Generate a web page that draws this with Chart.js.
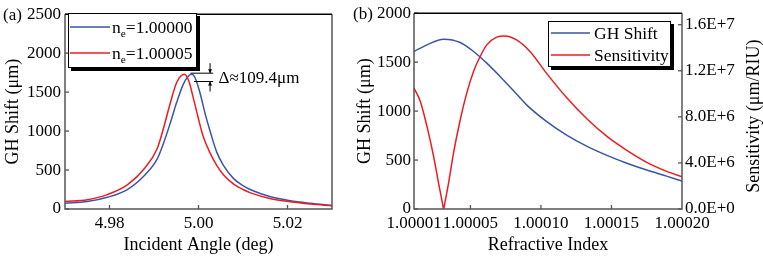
<!DOCTYPE html>
<html>
<head>
<meta charset="utf-8">
<script src="https://cdn.jsdelivr.net/npm/chart.js@4.4.0/dist/chart.umd.min.js"></script>
<style>
  body { margin: 0; background: #fff; }
  #wrap { position: relative; width: 763px; height: 256px; }
  canvas { position: absolute; top: 0; }
  #chartA { left: 0; }
  #chartB { left: 340px; }
</style>
</head>
<body>
<div id="wrap">
  <canvas id="chartA" width="340" height="256"></canvas>
  <canvas id="chartB" width="423" height="256"></canvas>
</div>
<script>
// ---- panel (a): GH shift vs incident angle ----
const angleBlue = [4.9700, 4.9750, 4.9795, 4.9840, 4.9880, 4.9907, 4.9921, 4.9936, 4.9951, 4.9966, 4.9978, 4.9985, 4.9993, 5.0004, 5.0015, 5.0026, 5.0041, 5.0056, 5.0079, 5.0100, 5.0120, 5.0160, 5.0206, 5.0251, 5.0300];
const ghBlue = [73, 95, 150, 250, 440, 640, 838, 1093, 1369, 1603, 1709, 1728, 1675, 1476, 1221, 1000, 730, 560, 390, 300, 240, 160, 106, 73, 45];
const angleRed = [4.9700, 4.9750, 4.9795, 4.9840, 4.9880, 4.9907, 4.9921, 4.9936, 4.9951, 4.9968, 4.9978, 4.9988, 4.9999, 5.0010, 5.0026, 5.0041, 5.0056, 5.0079, 5.0100, 5.0120, 5.0160, 5.0206, 5.0251, 5.0300];
const ghRed = [95, 120, 185, 310, 530, 774, 1029, 1348, 1624, 1728, 1645, 1433, 1178, 940, 720, 560, 440, 320, 250, 200, 136, 93, 64, 42];
const angleTicks = [4.98, 5.00, 5.02];
const labelsA = ['n_e=1.00000', 'n_e=1.00005'];

// bracket marking the peak difference
const deltaLevels = [1743, 1636];
const deltaFrom = [4.9982, 4.9990];
const deltaTo = 5.0033;
const deltaArrowX = 5.0026;
const deltaTextX = 5.0045;
const deltaText = 'Δ≈109.4μm';

// ---- panel (b): GH shift and sensitivity vs refractive index ----
const indexGH = [1.00001, 1.0000192, 1.000031, 1.0000428, 1.0000522, 1.0000616, 1.000071, 1.0000804, 1.0000898, 1.0001039, 1.0001185, 1.0001327, 1.0001468, 1.0001609, 1.000175, 1.0001891, 1.0002];
const ghShift = [1609, 1677, 1735, 1701, 1609, 1490, 1354, 1211, 1064, 895, 752, 640, 548, 468, 398, 336, 285];
const indexSens = [1.00001, 1.0000145, 1.0000192, 1.0000239, 1.0000274, 1.0000301, 1.000031, 1.0000319, 1.0000345, 1.000038, 1.0000428, 1.0000474, 1.0000522, 1.0000569, 1.0000616, 1.0000686, 1.0000745, 1.0000827, 1.0000922, 1.0001039, 1.0001185, 1.0001327, 1.0001468, 1.0001609, 1.000175, 1.0001891, 1.0002];
const sensitivity = [1.05e7, 9.34e6, 7.17e6, 4.57e6, 2.25e6, 0.55e6, 0, 0.55e6, 2.25e6, 4.86e6, 7.75e6, 1.006e7, 1.194e7, 1.324e7, 1.425e7, 1.492e7, 1.503e7, 1.468e7, 1.368e7, 1.18e7, 9.63e6, 7.81e6, 6.30e6, 5.09e6, 4.05e6, 3.27e6, 2.80e6];
const indexTicks = [1.00001, 1.00005, 1.00010, 1.00015, 1.00020];
const sensTicks = [0, 4e6, 8e6, 1.2e7, 1.6e7];
const labelsB = ['GH Shift', 'Sensitivity'];

const BLUE = '#3a55a7';
const RED = '#ec1c24';
const FONT = '"Liberation Serif", "Times New Roman", serif';
const tickFont = {family: FONT, size: 17};
const titleFont = {family: FONT, size: 18};

function toPoints(xs, ys) {
    return xs.map((x, i) => ({x: x, y: ys[i]}));
}

function sci(v) {
    if (v === 0) return '0.0E+0';
    const e = Math.floor(Math.log10(v) + 1e-9);
    return (v / Math.pow(10, e)).toFixed(1) + 'E+' + e;
}

/** text with "_x" meaning a one letter subscript */
function drawRich(ctx, text, x, y, size) {
    const parts = text.split('_');
    ctx.font = size + 'px ' + FONT;
    ctx.fillText(parts[0], x, y);
    let cx = x + ctx.measureText(parts[0]).width;
    if (parts.length > 1) {
        const sub = parts[1][0];
        const rest = parts[1].slice(1);
        ctx.font = (size * 0.65) + 'px ' + FONT;
        ctx.fillText(sub, cx, y + size * 0.22);
        cx += ctx.measureText(sub).width;
        ctx.font = size + 'px ' + FONT;
        ctx.fillText(rest, cx, y);
    }
}

/** frame, inward ticks, legend box and panel letter */
const framePlugin = {
    id: 'frame',
    afterDraw(chart, args, opts) {
        const ctx = chart.ctx;
        const a = chart.chartArea;
        ctx.save();
        ctx.lineWidth = 1.3;
        ctx.strokeStyle = '#555';
        Object.values(chart.scales).forEach(s => {
            s.ticks.forEach(t => {
                const p = s.getPixelForValue(t.value);
                ctx.beginPath();
                if (s.axis === 'x') {
                    if (p < a.left + 2 || p > a.right - 2) return;
                    ctx.moveTo(p, a.bottom); ctx.lineTo(p, a.bottom - 4);
                } else if (s.position === 'left') {
                    ctx.moveTo(a.left, p); ctx.lineTo(a.left + 4, p);
                } else {
                    ctx.moveTo(a.right, p); ctx.lineTo(a.right - 4, p);
                }
                ctx.stroke();
            });
        });
        ctx.lineWidth = 1.5;
        ctx.beginPath();
        ctx.moveTo(a.left, a.top); ctx.lineTo(a.left, a.bottom);
        ctx.lineTo(a.right, a.bottom); ctx.lineTo(a.right, a.top);
        ctx.stroke();
        ctx.strokeStyle = '#000';
        ctx.beginPath();
        ctx.moveTo(a.left, a.top); ctx.lineTo(a.right, a.top);
        ctx.stroke();

        // legend
        const b = opts.box;
        ctx.fillStyle = '#000';
        ctx.fillRect(b.x + 3, b.y + 3, b.w, b.h);
        ctx.fillStyle = '#fff';
        ctx.fillRect(b.x, b.y, b.w, b.h);
        ctx.lineWidth = 1;
        ctx.strokeRect(b.x + 0.5, b.y + 0.5, b.w - 1, b.h - 1);
        chart.data.datasets.forEach((ds, i) => {
            const y = b.rows[i];
            ctx.strokeStyle = ds.borderColor;
            ctx.lineWidth = 1.5;
            ctx.beginPath();
            ctx.moveTo(b.lineX[0], y); ctx.lineTo(b.lineX[1], y);
            ctx.stroke();
            ctx.fillStyle = '#000';
            ctx.textBaseline = 'alphabetic';
            ctx.textAlign = 'left';
            drawRich(ctx, ds.label, b.textX, y + 6, b.size);
        });

        // panel letter
        ctx.font = '17px ' + FONT;
        ctx.textBaseline = 'middle';
        ctx.fillText(opts.letter, opts.letterX, a.top + 1);
        ctx.restore();
    }
};

/** the delta bracket in panel (a) */
const deltaPlugin = {
    id: 'delta',
    afterDraw(chart) {
        const ctx = chart.ctx;
        const xs = chart.scales.x, ys = chart.scales.y;
        const yHi = ys.getPixelForValue(deltaLevels[0]);
        const yLo = ys.getPixelForValue(deltaLevels[1]);
        const xEnd = xs.getPixelForValue(deltaTo);
        const xa = xs.getPixelForValue(deltaArrowX);
        ctx.save();
        ctx.strokeStyle = '#000';
        ctx.fillStyle = '#000';
        ctx.lineWidth = 1;
        ctx.beginPath();
        ctx.moveTo(xs.getPixelForValue(deltaFrom[0]), yHi); ctx.lineTo(xEnd, yHi);
        ctx.moveTo(xs.getPixelForValue(deltaFrom[1]), yLo); ctx.lineTo(xEnd, yLo);
        ctx.moveTo(xa, yHi - 10); ctx.lineTo(xa, yHi);
        ctx.moveTo(xa, yLo); ctx.lineTo(xa, yLo + 10);
        ctx.stroke();
        ctx.beginPath();
        ctx.moveTo(xa, yHi); ctx.lineTo(xa - 2, yHi - 4); ctx.lineTo(xa + 2, yHi - 4); ctx.closePath();
        ctx.moveTo(xa, yLo); ctx.lineTo(xa - 2, yLo + 4); ctx.lineTo(xa + 2, yLo + 4); ctx.closePath();
        ctx.fill();
        ctx.font = '17px ' + FONT;
        ctx.textBaseline = 'middle';
        ctx.fillText(deltaText, xs.getPixelForValue(deltaTextX), (yHi + yLo) / 2 + 1);
        ctx.restore();
    }
};

/** right axis title reads bottom to top like the left one */
const rightTitlePlugin = {
    id: 'rightTitle',
    afterDraw(chart) {
        const ctx = chart.ctx;
        const a = chart.chartArea;
        ctx.save();
        ctx.translate(414, (a.top + a.bottom) / 2 + 5);
        ctx.rotate(-Math.PI / 2);
        ctx.font = '18px ' + FONT;
        ctx.fillStyle = '#000';
        ctx.textAlign = 'center';
        ctx.textBaseline = 'middle';
        ctx.fillText('Sensitivity (μm/RIU)', 0, 0);
        ctx.restore();
    }
};

function lineSet(label, data, color, order, axis) {
    return {
        label: label,
        data: data,
        borderColor: color,
        borderWidth: 1.5,
        pointRadius: 0,
        fill: false,
        cubicInterpolationMode: 'monotone',
        order: order,
        yAxisID: axis || 'y'
    };
}

const chartA = new Chart(document.getElementById('chartA'), {
    type: 'line',
    data: {
        datasets: [
            lineSet(labelsA[0], toPoints(angleBlue, ghBlue), BLUE, 1),
            lineSet(labelsA[1], toPoints(angleRed, ghRed), RED, 0)
        ]
    },
    options: {
        responsive: false,
        animation: false,
        layout: {padding: {top: 13, right: 8, left: 0, bottom: 0}},
        plugins: {
            legend: {display: false},
            tooltip: {enabled: false},
            frame: {
                letter: '(a)', letterX: 3,
                box: {x: 68, y: 13, w: 129, h: 55, rows: [27, 53], lineX: [70, 110], textX: 112, size: 17.5}
            }
        },
        scales: {
            x: {
                type: 'linear', min: 4.97, max: 5.03,
                grid: {display: false, drawTicks: false}, border: {display: false},
                afterBuildTicks: s => { s.ticks = angleTicks.map(v => ({value: v})); },
                afterFit: s => { s.height = 47; },
                ticks: {padding: 4, color: '#000', font: tickFont, callback: v => v.toFixed(2)},
                title: {display: true, text: 'Incident Angle (deg)', color: '#000', font: titleFont, padding: {top: 0, bottom: 0}}
            },
            y: {
                min: 0, max: 2500,
                grid: {display: false, drawTicks: false}, border: {display: false},
                afterFit: s => { s.width = 65; },
                ticks: {stepSize: 500, padding: 4, color: '#000', font: tickFont, callback: v => String(v)},
                title: {display: true, text: 'GH Shift (μm)', color: '#000', font: titleFont, padding: {top: 2, bottom: 0}}
            }
        }
    },
    plugins: [framePlugin, deltaPlugin]
});

const chartB = new Chart(document.getElementById('chartB'), {
    type: 'line',
    data: {
        datasets: [
            lineSet(labelsB[0], toPoints(indexGH, ghShift), BLUE, 1, 'y'),
            lineSet(labelsB[1], toPoints(indexSens, sensitivity), RED, 0, 'y1')
        ]
    },
    options: {
        responsive: false,
        animation: false,
        layout: {padding: {top: 13, right: 0, left: 0, bottom: 0}},
        plugins: {
            legend: {display: false},
            tooltip: {enabled: false},
            frame: {
                letter: '(b)', letterX: 13,
                box: {x: 208, y: 21, w: 123, h: 46, rows: [33, 55], lineX: [211, 250], textX: 254, size: 17.5}
            }
        },
        scales: {
            x: {
                type: 'linear', min: 1.00001, max: 1.0002,
                grid: {display: false, drawTicks: false}, border: {display: false},
                afterBuildTicks: s => { s.ticks = indexTicks.map(v => ({value: v})); },
                afterFit: s => { s.height = 47; },
                ticks: {padding: 4, maxRotation: 0, autoSkip: false, color: '#000', font: tickFont, callback: v => v.toFixed(5)},
                title: {display: true, text: 'Refractive Index', color: '#000', font: titleFont, padding: {top: 0, bottom: 0}}
            },
            y: {
                position: 'left', min: 0, max: 2000,
                grid: {display: false, drawTicks: false}, border: {display: false},
                afterFit: s => { s.width = 74; },
                ticks: {stepSize: 500, padding: 3, color: '#000', font: tickFont, callback: v => String(v)},
                title: {display: true, text: 'GH Shift (μm)', color: '#000', font: titleFont, padding: {top: 14, bottom: 0}}
            },
            y1: {
                position: 'right', min: 0, max: 1.7e7,
                grid: {display: false, drawTicks: false}, border: {display: false},
                afterBuildTicks: s => { s.ticks = sensTicks.map(v => ({value: v})); },
                afterFit: s => { s.width = 81; },
                ticks: {padding: 3, color: '#000', font: tickFont, callback: v => sci(v)}
            }
        }
    },
    plugins: [framePlugin, rightTitlePlugin]
});
</script>
</body>
</html>
